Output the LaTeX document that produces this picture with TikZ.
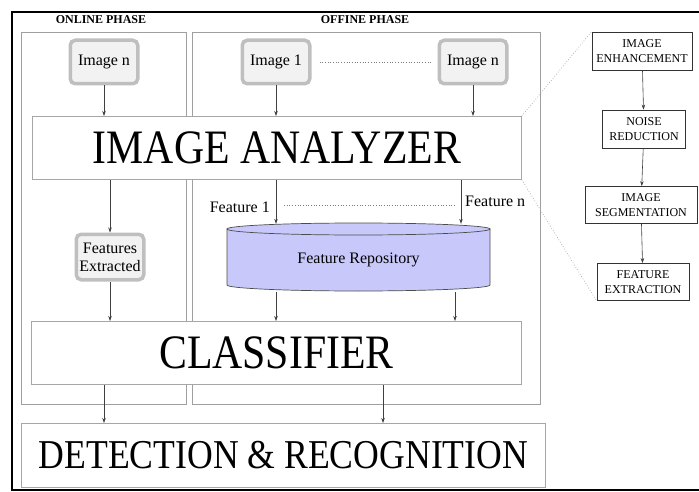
\documentclass[tikz,border=0pt]{standalone}
\usepackage{fontspec}
\setmainfont{Liberation Serif}
\usepackage{graphicx}
\usetikzlibrary{arrows.meta}
\definecolor{repoblue}{RGB}{200,200,250}
\begin{document}
\begin{tikzpicture}[x=1pt,y=-1pt,
  phase/.style={draw=gray!75, line width=0.8pt, inner sep=0pt, anchor=north west},
  imgbox/.style={draw=gray!50, line width=3.5pt, fill=gray!10, rounded corners=5pt,
    minimum width=67.5pt, minimum height=43.5pt, font=\fontsize{16}{18}\selectfont,
    inner sep=1pt, align=center},
  bigbox/.style={draw=gray!70, fill=white, line width=0.8pt, inner sep=0pt, anchor=north west},
  stepbox/.style={draw=black!80, line width=0.8pt, font=\fontsize{12}{14.5}\selectfont,
    align=center, inner sep=0pt},
  arr/.style={draw=black!75, line width=0.6pt, -{Stealth[length=5pt,width=3.5pt]}},
  lbl/.style={font=\fontsize{16}{18}\selectfont, inner sep=0pt},
  dots/.style={draw=gray, dotted, line width=0.7pt},
  phlbl/.style={font=\bfseries\fontsize{12}{12}\selectfont, inner sep=0pt},
]
\useasboundingbox (0,0) rectangle (699,492);
\fill[white] (0,0) rectangle (699,492);

% outer frame
\draw[line width=2.5pt] (699,12) -- (12,12) -- (12,490) -- (699,490);

% phase labels and boxes
\node[phlbl] (onl) at (101,20) {ONLINE PHASE};
\node[phlbl] (offl) at (365,20) {OFFINE PHASE};
\node[phase, minimum width=165pt, minimum height=372pt] (online) at (21,32) {};
\node[phase, minimum width=348pt, minimum height=372pt] (offline) at (192,32) {};

% images
\node[imgbox] (img0) at (104,62) {Image n};
\node[imgbox] (img1) at (276,62) {Image 1};
\node[imgbox] (imgn) at (473,62) {Image n};
\draw[dots, shorten <=8pt, shorten >=7pt] (img1.east) -- (imgn.west);

% main boxes
\node[bigbox, minimum width=489pt, minimum height=63pt,
  font=\fontsize{48}{48}\selectfont] (analyzer) at (32,116) {\scalebox{0.87}[1]{IMAGE ANALYZER}};
\node[bigbox, minimum width=490pt, minimum height=63pt,
  font=\fontsize{48}{48}\selectfont] (classifier) at (31,321) {\scalebox{0.87}[1]{CLASSIFIER}};
\node[bigbox, minimum width=524pt, minimum height=64pt,
  font=\fontsize{41}{41}\selectfont] (detection) at (21,423) {\scalebox{0.87}[1]{DETECTION \& RECOGNITION}};

% features extracted
\node[imgbox, minimum height=45.5pt, font=\fontsize{16}{18}\selectfont] (fe) at (110,257) {Features\\Extracted};

% feature repository (cylinder)
\draw[draw=black!70, line width=0.7pt, fill=repoblue]
  (227,229) -- (227,285) arc[start angle=180, end angle=360, x radius=131.5pt, y radius=6pt]
  -- (490,229) -- cycle;
\draw[draw=black!70, line width=0.7pt, fill=repoblue] (358.5,229) ellipse [x radius=131.5pt, y radius=6pt];
\node[lbl, minimum width=263pt, minimum height=68pt, text depth=0pt] (repo) at (358.5,258) {Feature Repository};

% feature labels
\node[lbl, anchor=east] (f1) at (270,207) {Feature 1};
\node[lbl, anchor=west] (fn) at (465,201) {Feature n};
\coordinate (fnx) at (461,200);
\coordinate (d1) at (284,205);
\coordinate (d2) at (455,205);
\draw[dots] (d1) -- (d2);
\coordinate (r2) at (455,300);
\coordinate (c2) at (383,400);

% arrows
\draw[arr] (img0) -- (analyzer.north -| img0);
\draw[arr] (img1) -- (analyzer.north -| img1);
\draw[arr] (imgn) -- (analyzer.north -| imgn);
\draw[arr] (analyzer.south -| fe) -- (fe);
\draw[arr] (fe) -- (classifier.north -| fe);
\draw[arr] (analyzer.south -| img1) -- (repo.north -| img1);
\draw[arr] (analyzer.south -| fnx) -- (repo.north -| fnx);
\draw[arr] (repo.south -| img1) -- (classifier.north -| img1);
\draw[arr] (repo.south -| r2) -- (classifier.north -| r2);
\draw[arr] (classifier.south -| img0) -- (detection.north -| img0);
\draw[arr] (classifier.south -| c2) -- (detection.north -| c2);

% right-hand steps
\node[stepbox, minimum width=100pt, minimum height=38pt] (enh) at (642,51) {IMAGE\\ENHANCEMENT};
\node[stepbox, minimum width=83pt, minimum height=38pt] (noise) at (644,129) {NOISE\\REDUCTION};
\node[stepbox, minimum width=112pt, minimum height=37pt] (seg) at (641,205) {IMAGE\\SEGMENTATION};
\node[stepbox, minimum width=92pt, minimum height=37pt] (fex) at (643,282) {FEATURE\\EXTRACTION};
\draw[arr] (enh) -- (noise);
\draw[arr] (noise) -- (seg);
\draw[arr] (seg) -- (fex);

\draw[dots, draw=gray!70] (analyzer.north east) -- (enh.north west);
\draw[dots, draw=gray!70] (analyzer.south east) -- (fex.south west);
\end{tikzpicture}
\end{document}
